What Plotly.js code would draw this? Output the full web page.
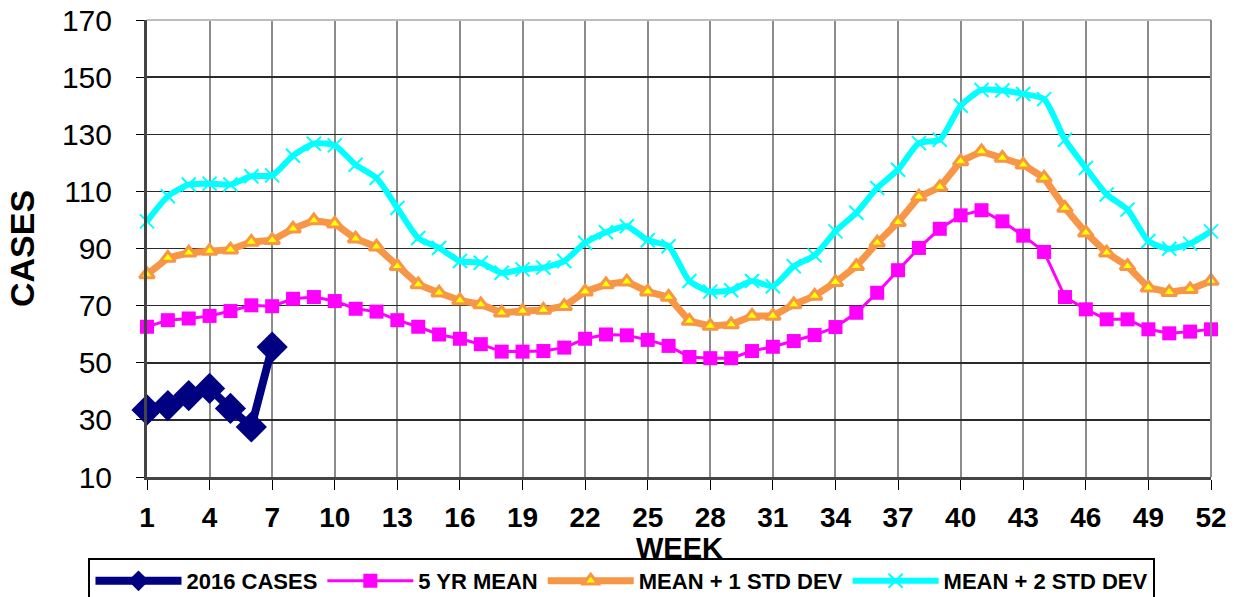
<!DOCTYPE html>
<html>
<head>
<meta charset="utf-8">
<script src="https://cdn.plot.ly/plotly-3.0.1.min.js"></script>
<style>html,body{margin:0;padding:0;background:#fff;}#chart{width:1234px;height:597px;}</style>
</head>
<body>
<div id="chart"></div>
<script>
const weeks = Array.from({length: 52}, (_, i) => i + 1);
const casesWeeks = [1, 2, 3, 4, 5, 6, 7];
const cases2016 = [33.5, 35, 38.5, 41, 34, 27.5, 55.5];
const mean5yr = [62.6,64.9,65.5,66.4,68.1,70.1,69.8,72.4,73.0,71.6,68.9,67.9,64.9,62.6,59.9,58.4,56.5,53.9,53.9,54.1,55.3,58.4,59.9,59.6,58.0,55.9,52.0,51.6,51.6,54.1,55.6,57.6,59.7,62.5,67.5,74.5,82.4,90.2,96.9,101.6,103.4,99.5,94.5,88.8,73.0,68.7,65.2,65.2,61.7,60.3,60.9,61.7];
const mean1sd = [80.9,86.7,88.5,89.1,89.6,92.3,92.9,96.9,99.8,98.7,93.4,90.6,83.8,77.4,74.5,71.8,70.4,67.5,68.1,68.5,69.8,74.9,77.4,78.4,74.9,73.0,64.6,62.9,63.4,66.4,66.4,70.4,73.4,78.2,83.8,92.0,99.2,108.1,111.5,120.5,124.0,121.7,119.3,114.7,104.2,95.5,88.5,83.8,76.3,74.7,75.7,78.6];
const mean2sd = [99.5,108.3,112.4,112.7,112.4,115.3,115.6,122.5,126.7,126.1,119.3,114.7,104.2,93.7,90.2,85.6,85.0,81.5,82.7,83.3,85.6,92.0,95.7,97.8,92.9,90.8,78.6,74.9,75.4,78.6,76.8,83.8,87.6,96.0,102.5,111.2,117.6,126.9,128.1,140.0,145.5,145.3,144.1,142.3,128.1,118.2,108.9,103.6,92.6,89.9,91.7,96.0];
const xTickVals = [1,4,7,10,13,16,19,22,25,28,31,34,37,40,43,46,49,52];
const yTickVals = [10,30,50,70,90,110,130,150,170];

const FONT = 'Liberation Sans, Arial, sans-serif';

const traces = [
  {x: casesWeeks, y: cases2016, name: '2016 CASES', type: 'scatter', mode: 'lines+markers',
   line: {color: '#000080', width: 8}, marker: {symbol: 'diamond', size: 24, color: '#000080'}, cliponaxis: false},
  {x: weeks, y: mean5yr, name: '5 YR MEAN', type: 'scatter', mode: 'lines+markers',
   line: {color: '#FF00FF', width: 3}, marker: {symbol: 'square', size: 14, color: '#FF00FF'}, cliponaxis: false},
  {x: weeks, y: mean1sd, name: 'MEAN + 1 STD DEV', type: 'scatter', mode: 'lines+markers',
   line: {color: '#F79646', width: 7}, marker: {symbol: 'triangle-up', size: 13, color: '#FFFF00', line: {color: '#F79646', width: 3}}, cliponaxis: false},
  {x: weeks, y: mean2sd, name: 'MEAN + 2 STD DEV', type: 'scatter', mode: 'lines+markers',
   line: {color: '#00FFFF', width: 6, shape: 'spline', smoothing: 0.6}, marker: {symbol: 'x-thin', size: 14, color: '#00FFFF', line: {color: '#00FFFF', width: 2}}, cliponaxis: false}
];

const layout = {
  width: 1234, height: 597,
  margin: {l: 147, r: 23, t: 20, b: 120, autoexpand: false},
  paper_bgcolor: '#ffffff', plot_bgcolor: '#ffffff',
  font: {family: FONT, color: '#000'},
  showlegend: true,
  xaxis: {
    range: [1, 52], tickvals: xTickVals, ticktext: xTickVals.map(String),
    showgrid: true, gridcolor: '#8c8c8c', gridwidth: 2,
    showline: true, linecolor: '#444', linewidth: 3,
    ticks: 'outside', ticklen: 10, tickcolor: '#000', tickwidth: 1,
    ticklabelstandoff: 3,
    tickfont: {family: FONT, size: 28, color: '#000', weight: 'bold'},
    zeroline: false, automargin: false
  },
  yaxis: {
    range: [10, 170], tickvals: yTickVals,
    showgrid: true, gridcolor: '#2a2a2a', gridwidth: 1.5,
    showline: true, linecolor: '#444', linewidth: 3,
    ticks: 'outside', ticklen: 8, tickcolor: '#000', tickwidth: 1,
    ticklabelstandoff: 18,
    tickfont: {family: FONT, size: 30, color: '#000'},
    zeroline: false, automargin: false,
    title: {text: '<b>CASES</b>', font: {family: FONT, size: 34, color: '#000'}, standoff: 18}
  },
  annotations: [
    {text: '<b>WEEK</b>', xref: 'paper', yref: 'paper', x: 0.5, y: (477 - 548) / 457, xanchor: 'center', yanchor: 'middle',
     showarrow: false, font: {family: FONT, size: 29, color: '#000'}}
  ],
  shapes: [
    {type: 'line', xref: 'paper', yref: 'paper', x0: 0, x1: 1, y0: 1, y1: 1, line: {color: '#bdbdbd', width: 2}},
    {type: 'line', xref: 'paper', yref: 'paper', x0: 1, x1: 1, y0: 0, y1: 1, line: {color: '#8c8c8c', width: 2}}
  ],
  legend: {
    orientation: 'h', x: -0.055, xanchor: 'left', y: (477 - 558) / 457, yanchor: 'top',
    bordercolor: '#000', borderwidth: 2, bgcolor: '#fff',
    font: {family: FONT, size: 22, color: '#000', weight: 'bold'},
    itemwidth: 86, tracegroupgap: 0
  }
};

Plotly.newPlot('chart', traces, layout, {displayModeBar: false, staticPlot: true});
</script>
</body>
</html>
